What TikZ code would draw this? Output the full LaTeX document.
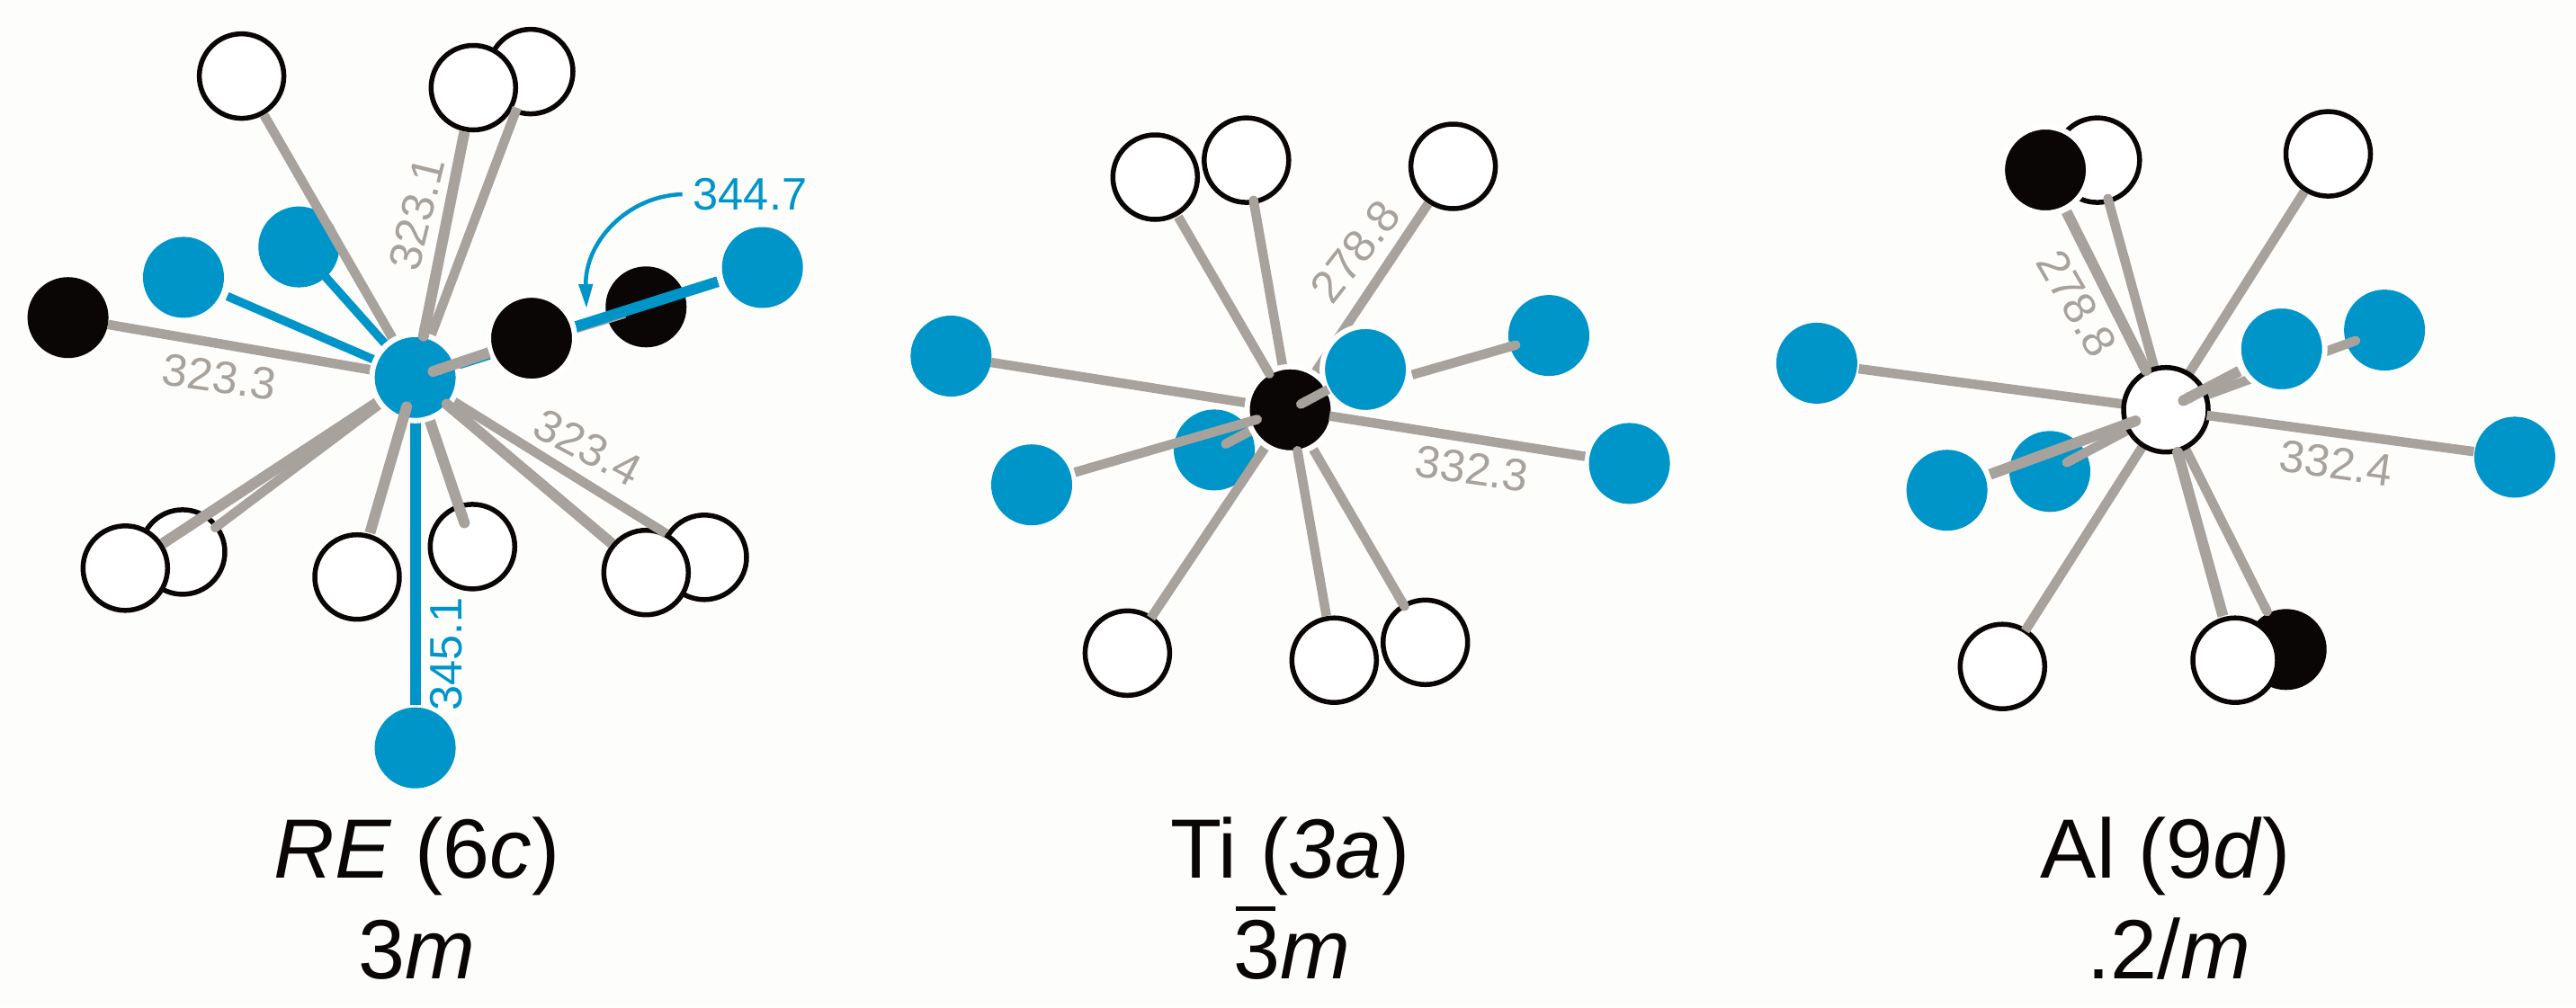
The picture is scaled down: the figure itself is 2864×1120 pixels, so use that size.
\documentclass[tikz,border=0pt]{standalone}
\usepackage{fontspec}
\setmainfont{Liberation Sans}
\usetikzlibrary{arrows.meta}
\definecolor{bgc}{HTML}{FDFDFC}
\definecolor{bluec}{HTML}{0095C9}
\definecolor{grayc}{HTML}{A8A29D}
\definecolor{blackc}{HTML}{0A0606}
\newcommand{\ssize}{\fontsize{50.5}{50.5}\selectfont}
\newcommand{\bsize}{\fontsize{93.5}{93.5}\selectfont}
\tikzset{
  atom/.style={circle,inner sep=0pt,outer sep=0pt},
  whiteatom/.style={atom,fill=white,draw=blackc,line width=5.5pt,minimum size=94pt},
  blackatom/.style={atom,fill=blackc,minimum size=90pt},
  blueatom/.style={atom,fill=bluec,minimum size=90pt},
  halo/.style={draw=white,line width=6pt,minimum size=96pt},
  bond/.style={draw=grayc,line width=10.5pt},
  frontbond/.style={draw=grayc,line width=12pt},
  bluebond/.style={draw=bluec,line width=12pt},
  thinbond/.style={draw=bluec,line width=9.5pt},
  capa/.style={{Round Cap[]}-},
  capb/.style={-{Round Cap[]}},
  graylab/.style={text=grayc,font=\ssize,inner sep=0pt},
  bluelab/.style={text=bluec,font=\ssize,inner sep=0pt},
  biglab/.style={text=blackc,font=\bsize,anchor=base,inner sep=0pt},
}
\begin{document}
\begin{tikzpicture}[x=1pt,y=-1pt]
\useasboundingbox (0,0) rectangle (2864,1120);
\fill[bgc] (0,0) rectangle (2864,1120);

% ---------- Panel 1: RE ----------
\node[whiteatom] (a1) at (268.6,84.6) {};
\node[whiteatom] (a2) at (590,79.6) {};
\node[whiteatom] (a3) at (526.3,97.5) {};
\node[blueatom] (a4) at (332.3,274.6) {};
\node[blueatom] (a5) at (204,308.4) {};
\node[blackatom] (a6) at (75.6,353.2) {};
\node[blackatom] (a7) at (718.3,341.3) {};
\node[blueatom] (a8) at (847.7,297.5) {};
\node[whiteatom] (a9) at (203,613.9) {};
\node[whiteatom] (a10) at (139.3,631.8) {};
\node[whiteatom] (a11) at (397,641.7) {};
\node[whiteatom] (a12) at (525.3,607.9) {};
\node[whiteatom] (a13) at (783,619.8) {};
\node[whiteatom] (a14) at (718.3,636.7) {};
\node[blueatom] (a15) at (461.6,831.7) {};
\coordinate (c1) at (461.6,419.8);
% rear bonds
\draw[thinbond,shorten <=43pt,shorten >=30pt] (a4.center) -- (c1);
\draw[thinbond,shorten <=53pt,shorten >=30pt] (a5.center) -- (c1);
\draw[bond,shorten <=50pt,shorten >=30pt] (a1.center) -- (c1);
\draw[bond,shorten <=43pt,shorten >=30pt] (a2.center) -- (c1);
\draw[bond,shorten <=45pt,shorten >=30pt] (a6.center) -- (c1);
\draw[frontbond,shorten <=50pt,shorten >=30pt] (a10.center) -- (c1);
\draw[bond,capa,shorten <=40pt,shorten >=30pt] (a9.center) -- (c1);
\draw[frontbond,capa,shorten <=22pt,shorten >=30pt] (a12.center) -- (c1);
\draw[bond,shorten <=50pt,shorten >=30pt] (a13.center) -- (c1);
\draw[bluebond,shorten <=48pt,shorten >=30pt] (a15.center) -- (c1);
\draw[bond,shorten <=25pt,shorten >=30pt] (a7.center) -- (c1);
\draw[bluebond,shorten <=52pt,shorten >=30pt] (a8.center) -- (c1);
% central atom and nearest atom
\node[blueatom,halo] (c1a) at (c1) {};
\node[blackatom,halo] (a16) at (591,376.1) {};
% front bonds
\draw[frontbond,capb,shorten <=50pt,shorten >=41pt] (a3.center) -- (c1a.center);
\draw[frontbond,capb,shorten <=51pt,shorten >=28pt] (a11.center) -- (c1a.center);
\draw[frontbond,capb,shorten <=50pt,shorten >=40pt] (a14.center) -- (c1a.center);
\draw[frontbond,capb,shorten <=50pt,shorten >=15pt] (a16.center) -- (c1a.center);
% labels
\node[graylab,rotate=76] (l1) at (463.6,237.8) {323.1};
\node[graylab,rotate=-8] (l2) at (243.8,418.9) {323.3};
\node[graylab,rotate=-28] (l3) at (653.6,497.5) {323.4};
\node[bluelab,rotate=90] (l4) at (496.5,727.3) {345.1};
\node[bluelab] (l5) at (834,216) {344.7};
\coordinate (l5end) at (652,343);
\draw[bluec,line width=4.5pt,-{Triangle[length=27pt,width=15pt]}] (l5.west) ++(-12,0) .. controls +(-62,2) and (650,270) .. (l5end);
\node[biglab] (t1) at (463.6,976) {\textit{RE} (6\textit{c})};
\node[biglab] (t2) at (463.6,1088) {3\textit{m}};

% ---------- Panel 2: Ti ----------
\node[whiteatom] (b1) at (1385.8,178.1) {};
\node[whiteatom] (b2) at (1284.3,197) {};
\node[whiteatom] (b3) at (1615.6,185) {};
\node[whiteatom] (b4) at (1253.4,726.3) {};
\node[whiteatom] (b5) at (1584.7,714.3) {};
\node[whiteatom] (b6) at (1483.3,734.2) {};
\node[blueatom] (b7) at (1057.4,396) {};
\node[blueatom] (b8) at (1147,539.2) {};
\node[blueatom] (b9) at (1350,500.4) {};
\node[blueatom] (b10) at (1722,373.1) {};
\node[blueatom] (b11) at (1811.6,515.4) {};
\coordinate (c2) at (1434.5,455.7);
\draw[bond,capa,shorten <=40pt,shorten >=30pt] (b1.center) -- (c2);
\draw[bond,shorten <=50pt,shorten >=30pt] (b3.center) -- (c2);
\draw[bond,shorten <=45pt,shorten >=30pt] (b7.center) -- (c2);
\draw[bond,shorten <=47pt,shorten >=30pt] (b4.center) -- (c2);
\draw[bond,capa,shorten <=41pt,shorten >=30pt] (b5.center) -- (c2);
\draw[bond,capa,shorten <=9pt,shorten >=30pt] (b9.center) -- (c2);
\draw[bond,capa,shorten <=33pt,shorten >=141pt] (b10.center) -- (c2);
\node[blackatom,halo] (c2a) at (c2) {};
\node[blueatom,halo] (b12) at (1518.1,410.9) {};
\draw[bond,capb,shorten <=51pt,shorten >=41pt] (b2.center) -- (c2a.center);
\draw[bond,capb,shorten <=50pt,shorten >=41pt] (b6.center) -- (c2a.center);
\draw[bond,capb,shorten <=50pt,shorten >=33pt] (b8.center) -- (c2a.center);
\draw[bond,shorten <=50pt,shorten >=44pt] (b11.center) -- (c2a.center);
\draw[bond,capb,shorten <=47pt,shorten >=8pt] (b12.center) -- (c2a.center);
\node[graylab,rotate=52] (l6) at (1507.1,279.6) {278.8};
\node[graylab,rotate=-8] (l7) at (1636.5,521.3) {332.3};
\node[biglab] (t3) at (1434.5,976) {Ti (\textit{3a})};
\node[biglab] (t4) at (1436,1088) {\rlap{\hspace{3pt}\raisebox{75pt}{\rule{44pt}{5pt}}}3\textit{m}};

% ---------- Panel 3: Al ----------
\node[whiteatom] (d1) at (2331.8,178.1) {};
\node[blackatom,halo] (d2) at (2274.1,189) {};
\node[whiteatom] (d3) at (2588.5,171.1) {};
\node[blueatom] (d4) at (2019.9,403.9) {};
\node[blueatom] (d5) at (2164.6,545.2) {};
\node[blueatom] (d6) at (2279,524.3) {};
\node[blueatom] (d7) at (2651.1,367.1) {};
\node[blueatom] (d8) at (2795.9,508.4) {};
\node[whiteatom] (d9) at (2226.3,741.2) {};
\node[blackatom] (d10) at (2541.7,722.3) {};
\node[whiteatom] (d11) at (2485,734.2) {};
\coordinate (c3) at (2408,455.7);
\draw[bond,shorten <=50pt,shorten >=30pt] (d3.center) -- (c3);
\draw[bond,capa,shorten <=39pt,shorten >=30pt] (d1.center) -- (c3);
\draw[bond,shorten <=47pt,shorten >=30pt] (d4.center) -- (c3);
\draw[bond,shorten <=47pt,shorten >=30pt] (d9.center) -- (c3);
\draw[bond,capa,shorten <=42pt,shorten >=30pt] (d10.center) -- (c3);
\draw[bond,capa,shorten <=29pt,shorten >=30pt] (d7.center) -- (c3);
\draw[bond,capa,shorten <=16pt,shorten >=30pt] (d6.center) -- (c3);
\node[whiteatom] (c3a) at (c3) {};
\node[blueatom,halo] (d12) at (2536.7,388) {};
\draw[bond,shorten <=46pt,shorten >=46pt] (d8.center) -- (c3a.center);
\draw[frontbond,capb,shorten <=52pt,shorten >=43pt] (d2.center) -- (c3a.center);
\draw[frontbond,capb,shorten <=51pt,shorten >=30pt] (d5.center) -- (c3a.center);
\draw[frontbond,capb,shorten <=51pt,shorten >=43pt] (d11.center) -- (c3a.center);
\draw[frontbond,capb,shorten <=53pt,shorten >=16pt] (d12.center) -- (c3a.center);
\node[graylab,rotate=-60] (l8) at (2308.9,337.3) {278.8};
\node[graylab,rotate=-8] (l9) at (2597.4,515.4) {332.4};
\node[biglab] (t5) at (2407.6,976) {Al (9\textit{d})};
\node[biglab] (t6) at (2411.5,1088) {.2/\textit{m}};
\end{tikzpicture}
\end{document}
